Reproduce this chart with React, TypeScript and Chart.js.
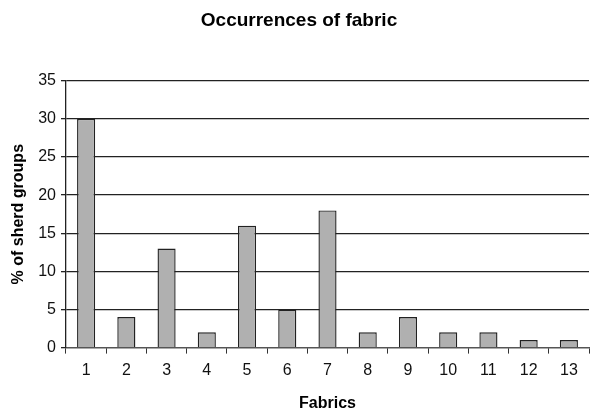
import React, { useEffect, useRef } from "react";
import { Chart, registerables } from "chart.js";

Chart.register(...registerables);

const categories = ["1", "2", "3", "4", "5", "6", "7", "8", "9", "10", "11", "12", "13"];
const values = [30, 4, 13, 2, 16, 5, 18, 2, 4, 2, 2, 1, 1];
const titleText = "Occurrences of fabric";
const xTitle = "Fabrics";
const yTitle = "% of sherd groups";

export default function App() {
  const ref = useRef<HTMLCanvasElement | null>(null);
  useEffect(() => {
    if (!ref.current) return;
    const font = "'Liberation Sans', Arial, sans-serif";
    const chart = new Chart(ref.current, {
      type: "bar",
      data: {
        labels: categories,
        datasets: [
          {
            data: values,
            backgroundColor: "#b0b0b0",
            borderColor: "#222222",
            borderWidth: 1.4,
            categoryPercentage: 1,
            barPercentage: 0.45,
          },
        ],
      },
      options: {
        animation: false,
        responsive: false,
        maintainAspectRatio: false,
        layout: { padding: { top: 9, right: 1, bottom: 0, left: 9 } },
        plugins: {
          legend: { display: false },
          tooltip: { enabled: false },
          title: {
            display: true,
            text: titleText,
            color: "#000",
            font: { family: font, size: 19, weight: "bold" },
            padding: { top: 0, bottom: 49 },
          },
        },
        scales: {
          x: {
            grid: {
              display: true,
              drawOnChartArea: false,
              drawTicks: true,
              tickLength: 6,
              color: "#333",
              offset: true,
            },
            border: { color: "#555", width: 1.3 },
            ticks: { color: "#111", font: { family: font, size: 16 }, padding: 7 },
            title: {
              display: true,
              text: xTitle,
              color: "#000",
              font: { family: font, size: 16, weight: "bold" },
              padding: { top: 7, bottom: 0 },
            },
          },
          y: {
            min: 0,
            max: 35,
            ticks: { stepSize: 5, color: "#111", font: { family: font, size: 16 }, padding: 5 },
            grid: {
              color: "#222",
              lineWidth: 1.3,
              drawTicks: true,
              tickLength: 5,
            },
            border: { color: "#222", width: 1.3 },
            title: {
              display: true,
              text: yTitle,
              color: "#000",
              font: { family: font, size: 16, weight: "bold" },
              padding: { top: 0, bottom: 5 },
            },
          },
        },
      },
    });
    return () => chart.destroy();
  }, []);
  return (
    <div style={{ position: "fixed", left: 0, top: 0, width: 590, height: 413, background: "#fff" }}>
      <canvas ref={ref} width={590} height={413} style={{ width: 590, height: 413 }} />
    </div>
  );
}
